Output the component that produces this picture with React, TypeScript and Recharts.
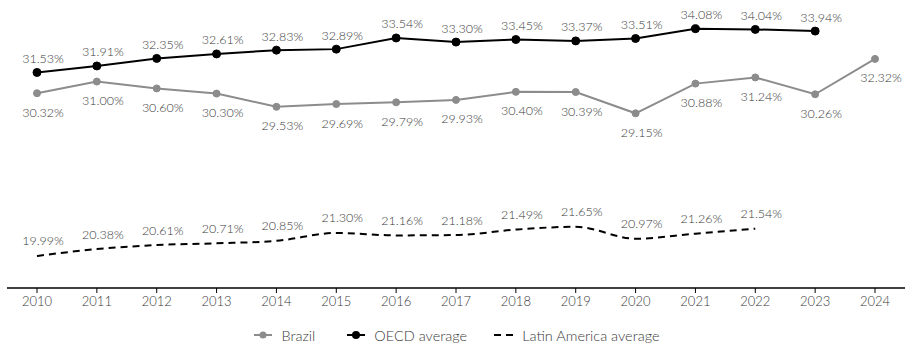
import React from "react";
import { LineChart, Line, XAxis, YAxis, Legend, LabelList } from "recharts";

const years = ["2010","2011","2012","2013","2014","2015","2016","2017","2018","2019","2020","2021","2022","2023","2024"];
const brazil = [30.32, 31.0, 30.6, 30.3, 29.53, 29.69, 29.79, 29.93, 30.4, 30.39, 29.15, 30.88, 31.24, 30.26, 32.32];
const oecd: (number | null)[] = [31.53, 31.91, 32.35, 32.61, 32.83, 32.89, 33.54, 33.3, 33.45, 33.37, 33.51, 34.08, 34.04, 33.94, null];
const latam: (number | null)[] = [19.99, 20.38, 20.61, 20.71, 20.85, 21.3, 21.16, 21.18, 21.49, 21.65, 20.97, 21.26, 21.54, null, null];

const data = years.map((y, i) => ({ year: y, brazil: brazil[i], oecd: oecd[i], latam: latam[i] }));

const FONT = "Lato, 'Noto Sans', sans-serif";
const WEIGHT = 300;
const GRAY = "#8c8c8c";
const TEXT = "#3a3a3a";

const makeLabel = (dy: number) => (props: any) => {
  const { x, y, value } = props;
  if (value === null || value === undefined || x === undefined || y === undefined) return null;
  return (
    <text
      x={Number(x) + 6}
      y={Number(y) + dy}
      textAnchor="middle"
      dominantBaseline="central"
      fontFamily={FONT}
      fontWeight={WEIGHT}
      fontSize={12.5}
      fill={TEXT}
    >
      {Number(value).toFixed(2)}%
    </text>
  );
};

const LegendContent = () => {
  const item = (icon: React.ReactNode, label: string, gap: number) => (
    <div style={{ display: "flex", alignItems: "center", marginRight: gap }}>
      <svg width={22} height={10} style={{ marginRight: 7 }}>{icon}</svg>
      <span style={{ fontFamily: FONT, fontWeight: WEIGHT, fontSize: 14.5, color: TEXT }}>{label}</span>
    </div>
  );
  return (
    <div style={{ height: 27, display: "flex", justifyContent: "center", alignItems: "center", paddingTop: 7, boxSizing: "border-box" }}>
      {item(<g><line x1={2} y1={5} x2={20} y2={5} stroke={GRAY} strokeWidth={2} /><circle cx={11} cy={5} r={3.5} fill={GRAY} /></g>, "Brazil", 30)}
      {item(<g><line x1={2} y1={5} x2={20} y2={5} stroke="#000" strokeWidth={2} /><circle cx={11} cy={5} r={4} fill="#000" /></g>, "OECD average", 26)}
      {item(<line x1={1} y1={5} x2={21} y2={5} stroke="#000" strokeWidth={2} strokeDasharray="7 5" />, "Latin America average", 0)}
    </div>
  );
};

export default function App() {
  return (
    <div style={{ position: "absolute", left: 0, top: 0 }}>
      <LineChart width={909} height={345} data={data} margin={{ top: 10, right: 4, left: 7, bottom: 0 }}>
        <XAxis
          dataKey="year"
          padding={{ left: 30, right: 30 }}
          tickSize={5}
          tickMargin={4}
          axisLine={{ stroke: "#000", strokeWidth: 1.5 }}
          tickLine={{ stroke: "#000" }}
          tick={{ fontFamily: FONT, fontWeight: WEIGHT, fontSize: 13, fill: TEXT }}
          height={30}
          interval={0}
        />
        <YAxis yAxisId="main" hide domain={[18.97, 35.17]} allowDataOverflow />
        <YAxis yAxisId="lat" hide domain={[18.17, 33.97]} allowDataOverflow />
        <Legend verticalAlign="bottom" content={<LegendContent />} />
        <Line
          yAxisId="lat"
          type="monotone"
          dataKey="latam"
          stroke="#000"
          strokeWidth={2}
          strokeDasharray="7 5"
          dot={false}
          activeDot={false}
          isAnimationActive={false}
          connectNulls={false}
        >
          <LabelList dataKey="latam" content={makeLabel(-15)} />
        </Line>
        <Line
          yAxisId="main"
          type="linear"
          dataKey="brazil"
          stroke={GRAY}
          strokeWidth={2}
          dot={{ r: 3.5, fill: GRAY, stroke: GRAY, strokeWidth: 1 }}
          activeDot={false}
          isAnimationActive={false}
        >
          <LabelList dataKey="brazil" content={makeLabel(19)} />
        </Line>
        <Line
          yAxisId="main"
          type="linear"
          dataKey="oecd"
          stroke="#000"
          strokeWidth={2}
          dot={{ r: 4, fill: "#000", stroke: "#000", strokeWidth: 1 }}
          activeDot={false}
          isAnimationActive={false}
        >
          <LabelList dataKey="oecd" content={makeLabel(-14)} />
        </Line>
      </LineChart>
    </div>
  );
}
